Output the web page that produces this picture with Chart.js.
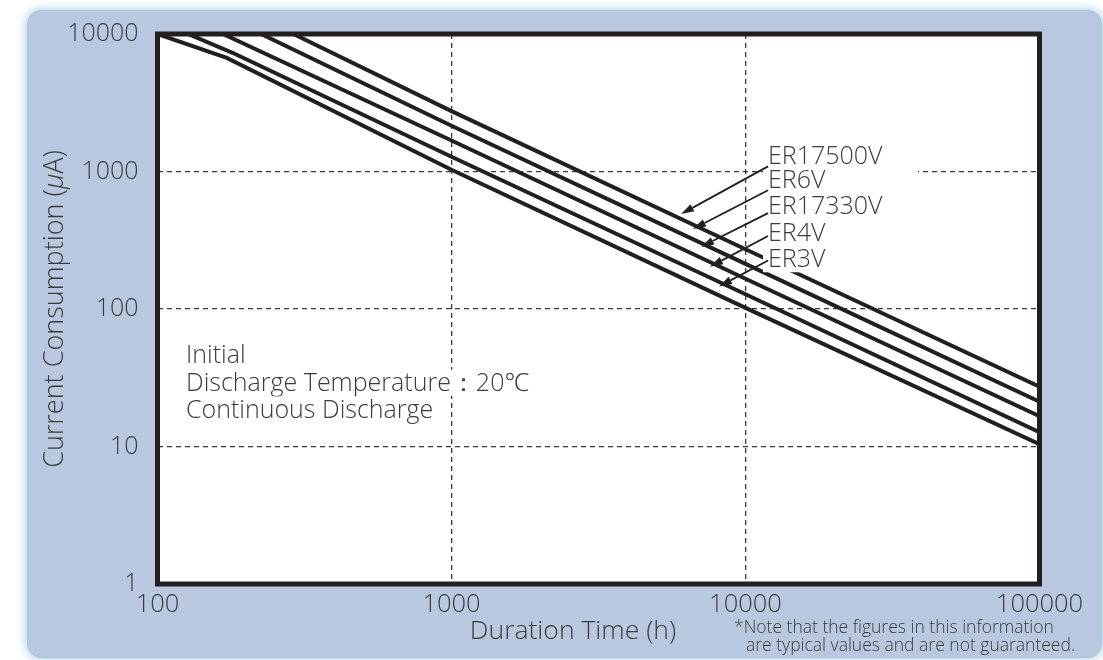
<!DOCTYPE html>
<html>
<head>
<meta charset="utf-8">
<script src="https://cdn.jsdelivr.net/npm/chart.js@4.4.1/dist/chart.umd.min.js"></script>
<style>
    html, body { margin: 0; padding: 0; background: #fff; }
    #wrap { position: relative; width: 1103px; height: 660px; overflow: hidden; }
    #panel {
        position: absolute; left: 27px; top: 10px; width: 1073px; height: 646px;
        background: #b9c8de; border: 1px solid #a3c8de; border-radius: 14px;
        box-shadow: 0 0 9px 2px rgba(130, 185, 215, 0.55);
    }
    canvas { position: absolute; left: 0; top: 0; }
</style>
</head>
<body>
<div id="wrap">
    <div id="panel"></div>
    <canvas id="chart" width="1103" height="660"></canvas>
</div>
<script>
const xTicks = [100, 1000, 10000, 100000]
const yTicks = [1, 10, 100, 1000, 10000]
const gridX = [1000, 10000]
const gridY = [10, 100, 1000]

const batteries = ['ER17500V', 'ER6V', 'ER17330V', 'ER4V', 'ER3V']

// duration (h) / current (uA)
const er17500vHours = [290, 1000, 10000, 100000]
const er17500vCurrent = [10000, 2750, 272, 27.2]
const er6vHours = [225, 1000, 10000, 100000]
const er6vCurrent = [10000, 2150, 213, 21.2]
const er17330vHours = [167, 1000, 10000, 100000]
const er17330vCurrent = [10000, 1680, 166, 16.6]
const er4vHours = [127, 180, 1000, 10000, 100000]
const er4vCurrent = [10000, 7300, 1280, 128, 12.7]
const er3vHours = [100, 172, 1000, 10000, 100000]
const er3vCurrent = [10000, 6700, 1030, 102, 10.4]

// label + arrow anchors (in hours / uA)
const labelHours = 11930
const labelCurrent = [1307, 863, 560, 358, 230]
const arrowTailCurrent = [1089, 730, 498, 340, 225]
const arrowTipHours = [6035, 6629, 7056, 7575, 8128]
const arrowTipCurrent = [490, 382, 283, 203, 146]

const noteLines = ['Initial', 'Discharge Temperature：20℃', 'Continuous Discharge']
const noteHours = 125
const noteCurrent = [46.4, 29.1, 18.6]

const seriesHours = [er17500vHours, er6vHours, er17330vHours, er4vHours, er3vHours]
const seriesCurrent = [er17500vCurrent, er6vCurrent, er17330vCurrent, er4vCurrent, er3vCurrent]

const FONT = '"Open Sans", "Noto Sans", sans-serif'
const TEXT = '#3b3b3b'
const INK = '#231f20'

const datasets = batteries.map((name, i) => ({
    label: name,
    data: seriesHours[i].map((h, j) => ({ x: h, y: seriesCurrent[i][j] })),
    borderColor: INK,
    borderWidth: 4,
    pointRadius: 0,
    tension: 0,
    fill: false
}))

function arrow(ctx, x1, y1, x2, y2) {
    const a = Math.atan2(y2 - y1, x2 - x1)
    const len = 13, half = 4
    const bx = x2 - len * Math.cos(a), by = y2 - len * Math.sin(a)
    ctx.beginPath()
    ctx.moveTo(x1, y1)
    ctx.lineTo(bx, by)
    ctx.lineWidth = 1.8
    ctx.strokeStyle = INK
    ctx.stroke()
    ctx.beginPath()
    ctx.moveTo(x2, y2)
    ctx.lineTo(bx + half * Math.sin(a), by - half * Math.cos(a))
    ctx.lineTo(bx - half * Math.sin(a), by + half * Math.cos(a))
    ctx.closePath()
    ctx.fillStyle = INK
    ctx.fill()
}

const plotBg = {
    id: 'plotBg',
    beforeDraw(chart) {
        const { ctx, chartArea } = chart
        ctx.save()
        ctx.fillStyle = '#fff'
        ctx.fillRect(chartArea.left, chartArea.top, chartArea.right - chartArea.left, chartArea.bottom - chartArea.top)
        ctx.restore()
    }
}

const overlay = {
    id: 'overlay',
    afterDatasetsDraw(chart) {
        const { ctx, chartArea } = chart
        const xs = chart.scales.x, ys = chart.scales.y
        ctx.save()

        // battery labels with white backing
        ctx.font = '300 25px ' + FONT
        ctx.textBaseline = 'middle'
        ctx.textAlign = 'left'
        const lx = xs.getPixelForValue(labelHours)
        batteries.forEach((name, i) => {
            const ly = ys.getPixelForValue(labelCurrent[i])
            ctx.fillStyle = '#fff'
            ctx.fillRect(lx - 5, ly - 13, 155, 26)
        })
        batteries.forEach((name, i) => {
            const ly = ys.getPixelForValue(labelCurrent[i])
            ctx.fillStyle = TEXT
            ctx.fillText(name, lx, ly + 1)
            arrow(ctx, lx, ys.getPixelForValue(arrowTailCurrent[i]),
                xs.getPixelForValue(arrowTipHours[i]), ys.getPixelForValue(arrowTipCurrent[i]))
        })

        // conditions note
        ctx.font = '300 25px ' + FONT
        const nx = xs.getPixelForValue(noteHours)
        noteLines.forEach((t, i) => {
            const ny = ys.getPixelForValue(noteCurrent[i])
            const w = ctx.measureText(t).width
            ctx.fillStyle = '#fff'
            ctx.fillRect(nx - 3, ny - 13, w + 6, 26)
            ctx.fillStyle = TEXT
            ctx.fillText(t, nx, ny + 1)
        })

        // frame
        ctx.lineWidth = 5
        ctx.strokeStyle = INK
        ctx.strokeRect(chartArea.left, chartArea.top, chartArea.right - chartArea.left, chartArea.bottom - chartArea.top)

        // y title with italic mu
        ctx.save()
        ctx.translate(55, (chartArea.top + chartArea.bottom) / 2)
        ctx.rotate(-Math.PI / 2)
        const parts = [['Current Consumption (', '300 27px '], ['μ', 'italic 300 27px '], ['A)', '300 27px ']]
        let total = 0
        parts.forEach(p => { ctx.font = p[1] + FONT; total += ctx.measureText(p[0]).width })
        let cx = -total / 2
        ctx.fillStyle = TEXT
        ctx.textAlign = 'left'
        parts.forEach(p => {
            ctx.font = p[1] + FONT
            ctx.fillText(p[0], cx, 0)
            cx += ctx.measureText(p[0]).width
        })
        ctx.restore()

        // x title
        ctx.font = '300 26.5px ' + FONT
        ctx.textAlign = 'center'
        ctx.fillStyle = TEXT
        ctx.fillText('Duration Time (h)', 573, 631)

        // footnote
        ctx.font = '300 17.5px ' + FONT
        ctx.textAlign = 'left'
        ctx.fillText('*Note that the figures in this information', 734, 628)
        ctx.fillText('are typical values and are not guaranteed.', 746, 646)

        ctx.restore()
    }
}

new Chart(document.getElementById('chart'), {
    type: 'line',
    data: { datasets: datasets },
    plugins: [plotBg, overlay],
    options: {
        responsive: false,
        animation: false,
        events: [],
        layout: { padding: { left: 0, top: 29.5, right: 63.5, bottom: 0 } },
        plugins: { legend: { display: false }, tooltip: { enabled: false } },
        scales: {
            x: {
                type: 'logarithmic',
                min: 100,
                max: 100000,
                afterBuildTicks: s => { s.ticks = xTicks.map(v => ({ value: v })) },
                afterFit: s => { s.height = 76 },
                ticks: {
                    callback: v => String(v),
                    font: { family: FONT, size: 25.5, weight: 300 },
                    color: TEXT,
                    padding: 5,
                    maxRotation: 0,
                    autoSkip: false
                },
                grid: {
                    color: c => gridX.includes(c.tick && c.tick.value) ? '#3a3a3a' : 'transparent',
                    lineWidth: 1.3,
                    drawTicks: false
                },
                border: { display: false, dash: [5, 4] }
            },
            y: {
                type: 'logarithmic',
                min: 1,
                max: 10000,
                afterBuildTicks: s => { s.ticks = yTicks.map(v => ({ value: v })) },
                afterFit: s => { s.width = 157.5 },
                ticks: {
                    callback: v => String(v),
                    font: { family: FONT, size: 25, weight: 300 },
                    color: TEXT,
                    padding: 19,
                    autoSkip: false
                },
                grid: {
                    color: c => gridY.includes(c.tick && c.tick.value) ? '#3a3a3a' : 'transparent',
                    lineWidth: 1.3,
                    drawTicks: false
                },
                border: { display: false, dash: [5, 4] }
            }
        }
    }
})
</script>
</body>
</html>
